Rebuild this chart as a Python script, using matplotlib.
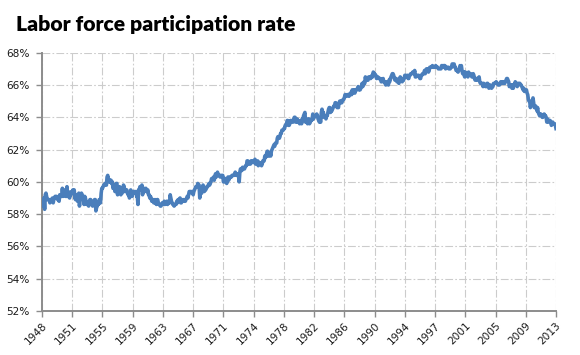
import matplotlib
matplotlib.use("Agg")
import matplotlib.pyplot as plt
import numpy as np

# Monthly labor force participation rate (%), Jan 1948 - Mar 2013
rate_1948 = [58.6, 58.9, 58.5, 59.0, 58.3, 59.2, 59.3, 59.1, 58.9, 58.9, 58.9, 58.9]
rate_1949 = [58.7, 58.9, 58.9, 58.9, 59.0, 58.7, 58.9, 59.0, 59.1, 59.1, 59.1, 59.0]
rate_1950 = [58.9, 58.9, 58.8, 59.2, 59.1, 59.1, 59.1, 59.6, 59.1, 59.5, 59.4, 59.3]
rate_1951 = [59.1, 59.1, 59.7, 59.1, 59.4, 59.1, 59.0, 59.2, 59.2, 59.4, 59.4, 59.5]
rate_1952 = [59.4, 59.5, 59.0, 58.9, 59.2, 59.2, 58.8, 58.9, 59.3, 58.5, 59.0, 59.1]
rate_1953 = [59.3, 59.2, 59.1, 58.9, 58.6, 59.1, 59.0, 58.8, 58.6, 58.7, 58.7, 58.5]
rate_1954 = [58.8, 58.9, 58.9, 58.8, 58.6, 58.5, 58.7, 58.8, 58.9, 58.9, 58.2, 58.4]
rate_1955 = [58.5, 58.7, 58.6, 58.9, 58.8, 58.7, 59.3, 59.6, 59.6, 59.7, 59.8, 59.8]
rate_1956 = [59.9, 59.8, 59.8, 60.3, 60.4, 60.2, 60.0, 60.1, 60.0, 60.1, 59.9, 60.0]
rate_1957 = [59.6, 59.8, 59.7, 59.4, 59.4, 59.9, 59.9, 59.2, 59.6, 59.4, 59.7, 59.6]
rate_1958 = [59.2, 59.5, 59.3, 59.6, 59.8, 59.7, 59.4, 59.5, 59.5, 59.5, 59.3, 59.2]
rate_1959 = [59.3, 59.0, 59.1, 59.5, 59.4, 59.1, 59.3, 59.4, 59.3, 59.4, 59.3, 59.4]
rate_1960 = [59.1, 59.1, 58.6, 59.5, 59.5, 59.7, 59.5, 59.5, 59.8, 59.2, 59.6, 59.6]
rate_1961 = [59.4, 59.5, 59.6, 59.4, 59.4, 59.5, 59.2, 59.2, 59.0, 59.1, 59.0, 58.8]
rate_1962 = [58.8, 58.9, 58.7, 58.7, 58.9, 58.8, 58.6, 58.9, 58.9, 58.7, 58.6, 58.6]
rate_1963 = [58.5, 58.5, 58.6, 58.7, 58.7, 58.6, 58.8, 58.6, 58.7, 58.7, 58.8, 58.6]
rate_1964 = [58.7, 58.8, 58.7, 59.2, 59.0, 58.8, 58.7, 58.6, 58.6, 58.5, 58.6, 58.6]
rate_1965 = [58.6, 58.8, 58.7, 58.9, 58.9, 58.9, 59.0, 58.7, 58.7, 58.9, 58.8, 58.9]
rate_1966 = [58.8, 58.8, 58.8, 58.9, 59.0, 59.1, 59.0, 59.2, 59.4, 59.4, 59.4, 59.4]
rate_1967 = [59.3, 59.4, 59.2, 59.4, 59.5, 59.6, 59.7, 59.7, 59.7, 59.9, 59.8, 59.8]
rate_1968 = [59.0, 59.3, 59.4, 59.3, 59.6, 59.8, 59.7, 59.4, 59.6, 59.5, 59.6, 59.7]
rate_1969 = [59.7, 59.8, 59.9, 59.8, 59.9, 60.0, 60.2, 60.2, 60.2, 60.3, 60.1, 60.3]
rate_1970 = [60.5, 60.3, 60.4, 60.6, 60.4, 60.4, 60.4, 60.3, 60.4, 60.4, 60.3, 60.4]
rate_1971 = [60.0, 60.0, 60.0, 60.2, 60.2, 59.9, 60.1, 60.3, 60.1, 60.2, 60.3, 60.3]
rate_1972 = [60.3, 60.4, 60.4, 60.4, 60.4, 60.5, 60.6, 60.5, 60.4, 60.5, 60.4, 60.4]
rate_1973 = [60.0, 60.6, 60.8, 60.8, 60.7, 60.9, 60.9, 60.8, 60.8, 60.9, 61.0, 61.0]
rate_1974 = [61.3, 61.3, 61.2, 61.1, 61.1, 61.1, 61.3, 61.2, 61.2, 61.3, 61.2, 61.2]
rate_1975 = [61.4, 61.1, 61.1, 61.2, 61.3, 61.0, 61.2, 61.2, 61.1, 61.1, 61.0, 61.1]
rate_1976 = [61.3, 61.3, 61.3, 61.6, 61.5, 61.6, 61.8, 61.9, 61.6, 61.6, 61.8, 61.8]
rate_1977 = [61.6, 61.9, 62.0, 62.1, 62.2, 62.3, 62.2, 62.4, 62.4, 62.4, 62.7, 62.8]
rate_1978 = [62.8, 62.7, 62.8, 63.0, 63.0, 63.2, 63.2, 63.2, 63.3, 63.3, 63.5, 63.5]
rate_1979 = [63.6, 63.8, 63.8, 63.5, 63.5, 63.6, 63.8, 63.8, 63.7, 63.7, 63.7, 63.9]
rate_1980 = [64.0, 64.0, 63.7, 63.8, 63.9, 63.7, 63.8, 63.7, 63.6, 63.7, 63.8, 63.6]
rate_1981 = [63.9, 63.9, 64.1, 64.2, 64.3, 63.7, 63.8, 63.8, 63.6, 63.9, 63.9, 63.6]
rate_1982 = [63.7, 63.8, 63.8, 63.9, 64.2, 63.9, 64.0, 64.1, 64.1, 64.1, 64.2, 64.1]
rate_1983 = [63.9, 63.8, 63.7, 63.8, 63.7, 64.3, 64.5, 64.3, 64.3, 64.0, 64.1, 64.1]
rate_1984 = [63.9, 64.1, 64.1, 64.3, 64.5, 64.6, 64.6, 64.3, 64.4, 64.4, 64.5, 64.6]
rate_1985 = [64.7, 64.7, 64.9, 64.9, 64.8, 64.6, 64.7, 64.6, 64.9, 65.0, 64.9, 65.0]
rate_1986 = [64.9, 65.0, 65.1, 65.1, 65.2, 65.4, 65.4, 65.3, 65.4, 65.4, 65.4, 65.3]
rate_1987 = [65.4, 65.5, 65.5, 65.4, 65.7, 65.5, 65.6, 65.7, 65.5, 65.7, 65.7, 65.7]
rate_1988 = [65.8, 65.9, 65.7, 65.8, 65.7, 65.8, 65.9, 66.1, 65.9, 66.0, 66.2, 66.1]
rate_1989 = [66.5, 66.3, 66.3, 66.4, 66.3, 66.5, 66.5, 66.5, 66.4, 66.5, 66.6, 66.5]
rate_1990 = [66.8, 66.7, 66.7, 66.6, 66.6, 66.4, 66.5, 66.5, 66.4, 66.4, 66.4, 66.4]
rate_1991 = [66.2, 66.2, 66.3, 66.4, 66.2, 66.2, 66.1, 66.0, 66.2, 66.1, 66.1, 66.0]
rate_1992 = [66.3, 66.2, 66.4, 66.5, 66.6, 66.7, 66.7, 66.6, 66.4, 66.3, 66.4, 66.4]
rate_1993 = [66.2, 66.2, 66.2, 66.1, 66.4, 66.5, 66.4, 66.4, 66.2, 66.3, 66.3, 66.4]
rate_1994 = [66.6, 66.6, 66.5, 66.5, 66.6, 66.4, 66.4, 66.6, 66.6, 66.7, 66.7, 66.7]
rate_1995 = [66.8, 66.8, 66.7, 66.9, 66.5, 66.5, 66.6, 66.6, 66.6, 66.6, 66.5, 66.4]
rate_1996 = [66.4, 66.6, 66.6, 66.7, 66.7, 66.7, 66.9, 66.7, 66.9, 67.0, 67.0, 67.0]
rate_1997 = [66.8, 66.9, 67.1, 67.1, 67.1, 67.1, 67.2, 67.1, 67.1, 67.1, 67.1, 67.2]
rate_1998 = [67.1, 67.1, 67.1, 67.0, 67.0, 67.0, 67.0, 67.0, 67.2, 67.2, 67.1, 67.2]
rate_1999 = [67.2, 67.2, 67.0, 67.1, 67.1, 67.1, 67.1, 67.0, 67.0, 67.0, 67.1, 67.1]
rate_2000 = [67.3, 67.3, 67.3, 67.3, 67.1, 67.1, 66.9, 66.9, 66.9, 66.8, 66.9, 67.0]
rate_2001 = [67.2, 67.1, 67.2, 66.9, 66.7, 66.7, 66.8, 66.5, 66.8, 66.7, 66.7, 66.7]
rate_2002 = [66.5, 66.8, 66.6, 66.7, 66.7, 66.6, 66.5, 66.6, 66.7, 66.6, 66.4, 66.3]
rate_2003 = [66.4, 66.4, 66.3, 66.4, 66.4, 66.5, 66.2, 66.1, 66.1, 66.1, 66.1, 65.9]
rate_2004 = [66.1, 66.0, 66.0, 65.9, 65.9, 66.1, 66.1, 66.0, 65.8, 65.9, 66.0, 65.9]
rate_2005 = [65.8, 65.9, 65.9, 66.1, 66.1, 66.1, 66.1, 66.2, 66.1, 66.1, 66.0, 66.0]
rate_2006 = [66.0, 66.1, 66.2, 66.1, 66.1, 66.2, 66.1, 66.2, 66.1, 66.2, 66.3, 66.4]
rate_2007 = [66.4, 66.3, 66.2, 65.9, 66.0, 66.0, 66.0, 65.8, 66.0, 65.8, 66.0, 66.0]
rate_2008 = [66.2, 66.0, 66.1, 65.9, 66.1, 66.1, 66.1, 66.1, 66.0, 66.0, 65.9, 65.8]
rate_2009 = [65.7, 65.8, 65.6, 65.7, 65.7, 65.7, 65.5, 65.4, 65.1, 65.0, 65.0, 64.6]
rate_2010 = [64.8, 64.9, 64.9, 65.2, 64.9, 64.6, 64.6, 64.7, 64.6, 64.4, 64.6, 64.3]
rate_2011 = [64.2, 64.1, 64.2, 64.2, 64.1, 64.0, 64.0, 64.1, 64.2, 64.1, 64.1, 64.0]
rate_2012 = [63.7, 63.9, 63.8, 63.7, 63.8, 63.8, 63.7, 63.5, 63.6, 63.7, 63.6, 63.6]
rate_2013 = [63.6, 63.5, 63.3]

yearly = [rate_1948, rate_1949, rate_1950, rate_1951, rate_1952, rate_1953, rate_1954,
          rate_1955, rate_1956, rate_1957, rate_1958, rate_1959, rate_1960, rate_1961,
          rate_1962, rate_1963, rate_1964, rate_1965, rate_1966, rate_1967, rate_1968,
          rate_1969, rate_1970, rate_1971, rate_1972, rate_1973, rate_1974, rate_1975,
          rate_1976, rate_1977, rate_1978, rate_1979, rate_1980, rate_1981, rate_1982,
          rate_1983, rate_1984, rate_1985, rate_1986, rate_1987, rate_1988, rate_1989,
          rate_1990, rate_1991, rate_1992, rate_1993, rate_1994, rate_1995, rate_1996,
          rate_1997, rate_1998, rate_1999, rate_2000, rate_2001, rate_2002, rate_2003,
          rate_2004, rate_2005, rate_2006, rate_2007, rate_2008, rate_2009, rate_2010,
          rate_2011, rate_2012, rate_2013]
values = np.concatenate([np.array(v, dtype=float) for v in yearly])

tick_labels = ["1948", "1951", "1955", "1959", "1963", "1967", "1971", "1974", "1978",
               "1982", "1986", "1990", "1994", "1997", "2001", "2005", "2009", "2013"]
tick_step = 46  # categories between labels
y_ticks = [52, 54, 56, 58, 60, 62, 64, 66, 68]

fig = plt.figure(figsize=(5.8, 3.55), dpi=100)
ax = fig.add_axes([42/580, 1 - 311/355, (556-42)/580, (311-52.7)/355])

x = np.arange(len(values))
ax.plot(x, values, color="#4a7ebb", lw=2.6, solid_joinstyle="round", zorder=3)

ax.set_xlim(0, tick_step * (len(tick_labels) - 1))
ax.set_ylim(52, 68)
ax.set_xticks(np.arange(len(tick_labels)) * tick_step)
ax.set_xticklabels(tick_labels, rotation=45, ha="right", rotation_mode="anchor")
ax.set_yticks(y_ticks)
ax.set_yticklabels([f"{v}%" for v in y_ticks])

ax.grid(True, color="#cccccc", linestyle=(0, (7, 2, 1.5, 2)), lw=0.8, zorder=0)
for s in ["top", "right"]:
    ax.spines[s].set_visible(False)
for s in ["left", "bottom"]:
    ax.spines[s].set_color("#8c8c8c")
    ax.spines[s].set_linewidth(1.4)
ax.tick_params(axis="both", colors="#8c8c8c", length=4, width=1.0, labelcolor="#1a1a1a",
               labelsize=7.6)
ax.tick_params(axis="y", pad=5)
ax.tick_params(axis="x", pad=3)

fig.text(16/580, 1 - 25/355, "Labor force participation rate", fontsize=15.2,
         fontweight="heavy", family="Lato", va="center", ha="left", color="#000000")

fig.savefig("out.png", dpi=100)
